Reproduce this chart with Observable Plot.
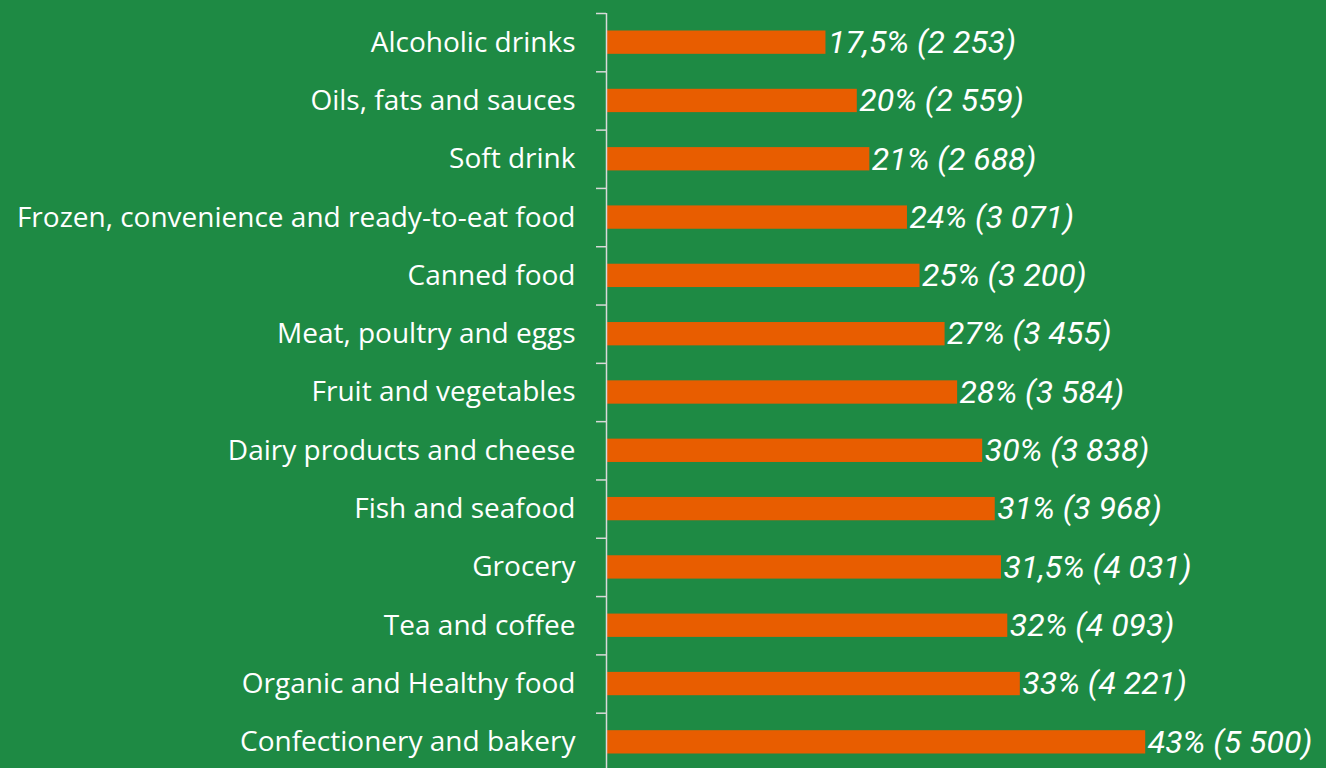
<!DOCTYPE html>
<html>
<head>
<meta charset="utf-8">
<script src="https://cdn.jsdelivr.net/npm/d3@7"></script>
<script src="https://cdn.jsdelivr.net/npm/@observablehq/plot@0.6"></script>
<style>
  html, body { margin: 0; padding: 0; background: #1e8a44; overflow: hidden; }
  #chart svg { display: block; overflow: visible; }
</style>
</head>
<body>
<div id="chart"></div>
<script>
const categories = [
  "Alcoholic drinks",
  "Oils, fats and sauces",
  "Soft drink",
  "Frozen, convenience and ready-to-eat food",
  "Canned food",
  "Meat, poultry and eggs",
  "Fruit and vegetables",
  "Dairy products and cheese",
  "Fish and seafood",
  "Grocery",
  "Tea and coffee",
  "Organic and Healthy food",
  "Confectionery and bakery"
];
const shares = [17.5, 20, 21, 24, 25, 27, 28, 30, 31, 31.5, 32, 33, 43];
const counts = [2253, 2559, 2688, 3071, 3200, 3455, 3584, 3838, 3968, 4031, 4093, 4221, 5500];

const fmtCount = n => String(n).replace(/\B(?=(\d{3})+(?!\d))/g, " ");
const fmtShare = v => String(v).replace(".", ",");
const data = categories.map((c, i) => ({
  category: c,
  share: shares[i],
  label: `${fmtShare(shares[i])}% (${fmtCount(counts[i])})`
}));

const W = 1326, H = 771;
const mTop = 13, mBottom = 0;
const step = (H - mTop - mBottom) / categories.length;

const chart = Plot.plot({
  width: W,
  height: H,
  marginLeft: 606,
  marginRight: 93,
  marginTop: mTop,
  marginBottom: mBottom,
  style: {background: "transparent", overflow: "visible"},
  x: {domain: [0, 50], axis: null},
  y: {domain: categories, paddingInner: 0.6, paddingOuter: 0.3, round: false, axis: null},
  marks: [
    Plot.barX(data, {y: "category", x: "share", fill: "#e85d00"}),
    Plot.ruleX([0], {stroke: "#d9d9d9", strokeWidth: 1.5}),
    Plot.ruleY(categories, {y: d => d, x1: 0, x2: 0, insetLeft: -10, dy: -step / 2, stroke: "#d9d9d9", strokeWidth: 1.5}),
    Plot.axisY({tickSize: 0, tickPadding: 31, fontSize: 28, fill: "white", fontFamily: "Open Sans", label: null}),
    Plot.text(data, {
      y: "category", x: "share", text: "label",
      textAnchor: "start", dx: 2, fill: "white",
      fontSize: 32, fontStyle: "italic", fontFamily: "Roboto"
    })
  ]
});
document.getElementById("chart").appendChild(chart);
</script>
</body>
</html>
